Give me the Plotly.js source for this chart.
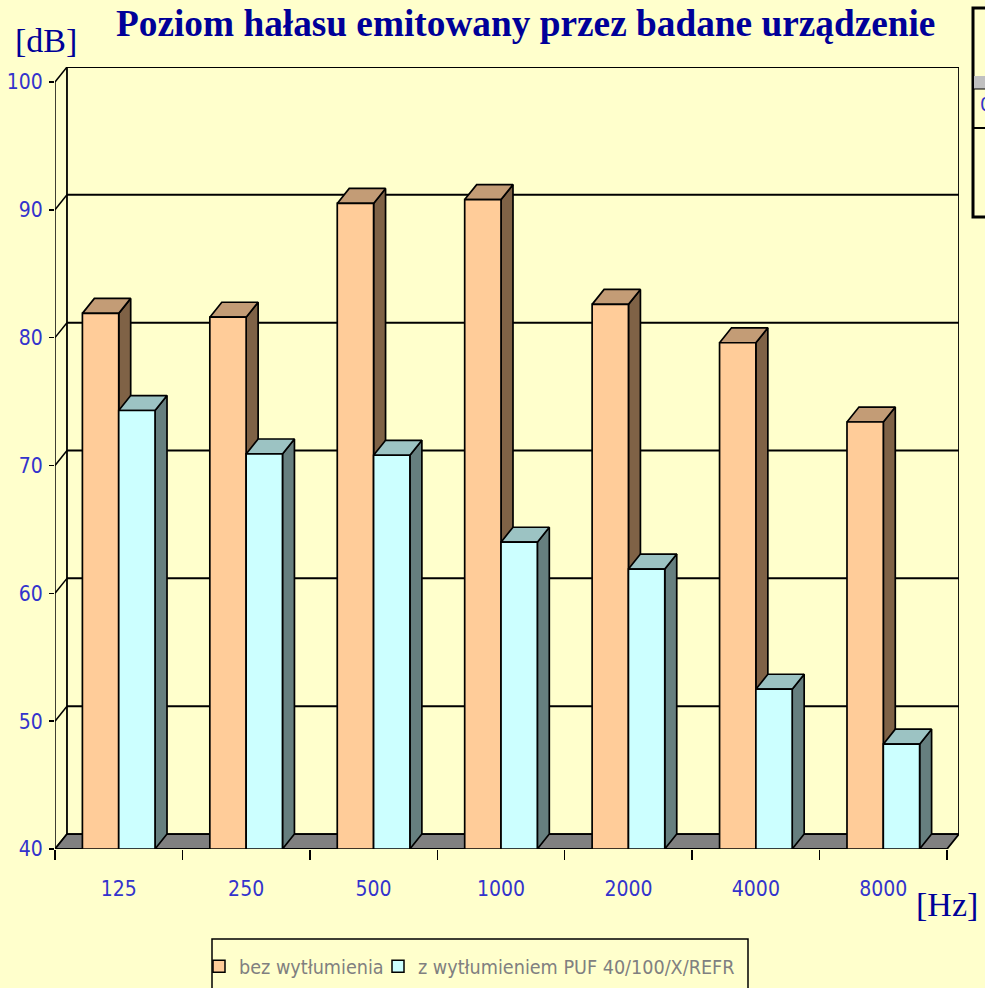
<!DOCTYPE html>
<html>
<head>
<meta charset="utf-8">
<script src="https://cdn.plot.ly/plotly-3.0.1.min.js"></script>
<style>html,body{margin:0;padding:0;background:#FFFFCC;overflow:hidden;width:985px;height:988px;}</style>
</head>
<body>
<div id="chart" style="width:985px;height:988px;position:absolute;left:0;top:0;"></div>
<script>
// ---- data ----
const categories = ['125', '250', '500', '1000', '2000', '4000', '8000'];
const bezWytlumienia = [81.9, 81.6, 90.5, 90.8, 82.6, 79.6, 73.4];
const zWytlumieniem = [74.3, 70.9, 70.8, 64.0, 61.9, 52.5, 48.2];
const seriesNames = ['bez wytłumienia', 'z wytłumieniem PUF 40/100/X/REFR'];
const yTicks = [40, 50, 60, 70, 80, 90, 100];

// ---- style ----
const W = 985, H = 988;
const M = {l: 55, r: 26, t: 67, b: 139};
const DX = 0.094;   // depth offset, category units
const DY = 1.17;    // depth offset, value units
const BW = 0.285;   // bar width, category units
const Y0 = 40, YMAX = 100;
const NARROW = '"Liberation Sans Narrow", "DejaVu Sans Condensed", "Arial Narrow", sans-serif';
const SERIF = '"Liberation Serif", "Times New Roman", serif';
const TICKBLUE = '#3333CC';
const DARKBLUE = '#000099';
const faceColors = [
  {front: '#FFCC99', top: '#C39C76', side: '#7F6246'},
  {front: '#CCFFFF', top: '#9CC3C3', side: '#667F7F'}
];
const seriesValues = [bezWytlumienia, zWytlumieniem];
const legendIds = ['legend', 'legend2'];

const plotW = W - M.l - M.r, plotH = H - M.t - M.b;
const pxX = p => (p - M.l) / plotW;
const pxY = p => (H - M.b - p) / plotH;

function poly(xs, ys, fill, lw) {
  return {
    type: 'scatter', mode: 'lines',
    x: xs.concat([xs[0]]), y: ys.concat([ys[0]]),
    fill: 'toself', fillcolor: fill,
    line: {color: '#000000', width: lw || 1.7},
    hoverinfo: 'skip', showlegend: false
  };
}

const traces = [];
categories.forEach((c, i) => {
  seriesValues.forEach((vals, s) => {
    const v = vals[i];
    const x0 = i - BW + s * BW, x1 = x0 + BW;
    const col = faceColors[s];
    traces.push(poly([x1, x1, x1 + DX, x1 + DX], [Y0, v, v + DY, Y0 + DY], col.side));
    traces.push(poly([x0, x1, x1 + DX, x0 + DX], [v, v, v + DY, v + DY], col.top));
    traces.push(poly([x0, x1, x1, x0], [Y0, Y0, v, v], col.front));
  });
});
seriesNames.forEach((n, s) => {
  traces.push({
    type: 'scatter', mode: 'markers', x: [null], y: [null], name: n, legend: legendIds[s],
    marker: {symbol: 'square', size: 12, color: faceColors[s].front, line: {color: '#000', width: 1.5}},
    hoverinfo: 'skip'
  });
});

const N = categories.length;
const XL = -0.5, XR = N - 0.5;
const shapes = [];
const ln = (x0, y0, x1, y1, w) => ({type: 'line', xref: 'x', yref: 'y', x0, y0, x1, y1, layer: 'below', line: {color: '#000', width: w || 2}});
// back wall
shapes.push({type: 'rect', xref: 'x', yref: 'y', x0: XL + DX, x1: XR + DX, y0: Y0 + DY, y1: YMAX + DY, layer: 'below', line: {color: '#000', width: 1.8}, fillcolor: 'rgba(0,0,0,0)'});
// gridlines on wall + side diagonals
yTicks.forEach(v => {
  if (v > Y0 && v < YMAX) shapes.push(ln(XL + DX, v + DY, XR + DX, v + DY));
  shapes.push(ln(XL, v, XL + DX, v + DY, 1.5));
});
// front-left axis line
shapes.push(ln(XL, Y0, XL, YMAX, 1.5));
// floor
shapes.push({type: 'path', xref: 'x', yref: 'y', layer: 'below',
  path: `M${XL},${Y0} L${XR},${Y0} L${XR + DX},${Y0 + DY} L${XL + DX},${Y0 + DY} Z`,
  fillcolor: '#808080', line: {color: '#000', width: 1.8}});
// legend box
shapes.push({type: 'rect', xref: 'paper', yref: 'paper', x0: pxX(212), x1: pxX(748), y0: pxY(939), y1: pxY(1000), line: {color: '#000', width: 1.5}, fillcolor: 'rgba(0,0,0,0)', layer: 'below'});
// cropped data table at top right
shapes.push({type: 'rect', xref: 'paper', yref: 'paper', x0: pxX(973), x1: pxX(1000), y0: pxY(8), y1: pxY(217), line: {color: '#000', width: 3}, fillcolor: 'rgba(0,0,0,0)'});
shapes.push({type: 'rect', xref: 'paper', yref: 'paper', x0: pxX(974), x1: pxX(1000), y0: pxY(76), y1: pxY(89), line: {width: 0}, fillcolor: '#C0C0C0'});
shapes.push({type: 'line', xref: 'paper', yref: 'paper', x0: pxX(973), x1: pxX(1000), y0: pxY(89), y1: pxY(89), line: {color: '#000', width: 1}});
shapes.push({type: 'line', xref: 'paper', yref: 'paper', x0: pxX(973), x1: pxX(1000), y0: pxY(128), y1: pxY(128), line: {color: '#000', width: 2}});

const annotations = [
  {xref: 'paper', yref: 'paper', x: pxX(13), y: pxY(41), xanchor: 'left', yanchor: 'middle', showarrow: false,
   text: '[dB]', font: {family: SERIF, size: 34, color: DARKBLUE}},
  {xref: 'paper', yref: 'paper', x: pxX(914), y: pxY(905), xanchor: 'left', yanchor: 'middle', showarrow: false,
   text: '[Hz]', font: {family: SERIF, size: 34, color: DARKBLUE}},
  {xref: 'paper', yref: 'paper', x: pxX(978), y: pxY(104), xanchor: 'left', yanchor: 'middle', showarrow: false,
   text: '0', font: {family: NARROW, size: 20, color: TICKBLUE}}
];

const legendStyle = (xpx) => ({
  orientation: 'h', xref: 'paper', x: pxX(xpx), xanchor: 'left',
  yref: 'container', y: 1 - 947 / H, yanchor: 'top',
  bgcolor: 'rgba(0,0,0,0)', borderwidth: 0,
  font: {family: NARROW, size: 19.6, color: '#808080'}
});

const layout = {
  width: W, height: H,
  margin: {l: M.l, r: M.r, t: M.t, b: M.b, pad: 0, autoexpand: false},
  paper_bgcolor: '#FFFFCC', plot_bgcolor: '#FFFFCC',
  title: {text: 'Poziom hałasu emitowany przez badane urządzenie', xref: 'container', yref: 'container',
          x: 116 / W, xanchor: 'left', y: 1 - 23 / H, yanchor: 'middle',
          font: {family: SERIF, size: 37.3, color: DARKBLUE, weight: 'bold'}},
  xaxis: {
    type: 'linear', range: [XL, XR + DX], tickmode: 'array',
    tickvals: categories.map((c, i) => i), ticktext: categories,
    ticks: '', showgrid: false, zeroline: false, showline: false, automargin: false,
    tickfont: {family: NARROW, size: 21, color: TICKBLUE}, ticklabelstandoff: 25,
    minor: {tickmode: 'array', tickvals: categories.map((c, i) => i - 0.5).concat([N - 0.5]),
            ticks: 'outside', ticklen: 10, tickcolor: '#000', tickwidth: 1.5, showgrid: false},
    fixedrange: true
  },
  yaxis: {
    range: [Y0, YMAX + DY], tickmode: 'array', tickvals: yTicks,
    ticks: 'outside', ticklen: 5, tickcolor: '#000', tickwidth: 1.5,
    showgrid: false, zeroline: false, showline: false, automargin: false,
    tickfont: {family: NARROW, size: 21, color: TICKBLUE}, ticklabelstandoff: 2,
    fixedrange: true
  },
  legend: legendStyle(199),
  legend2: legendStyle(378),
  showlegend: true,
  shapes: shapes,
  annotations: annotations
};

Plotly.newPlot('chart', traces, layout, {displayModeBar: false, staticPlot: true});
</script>
</body>
</html>
